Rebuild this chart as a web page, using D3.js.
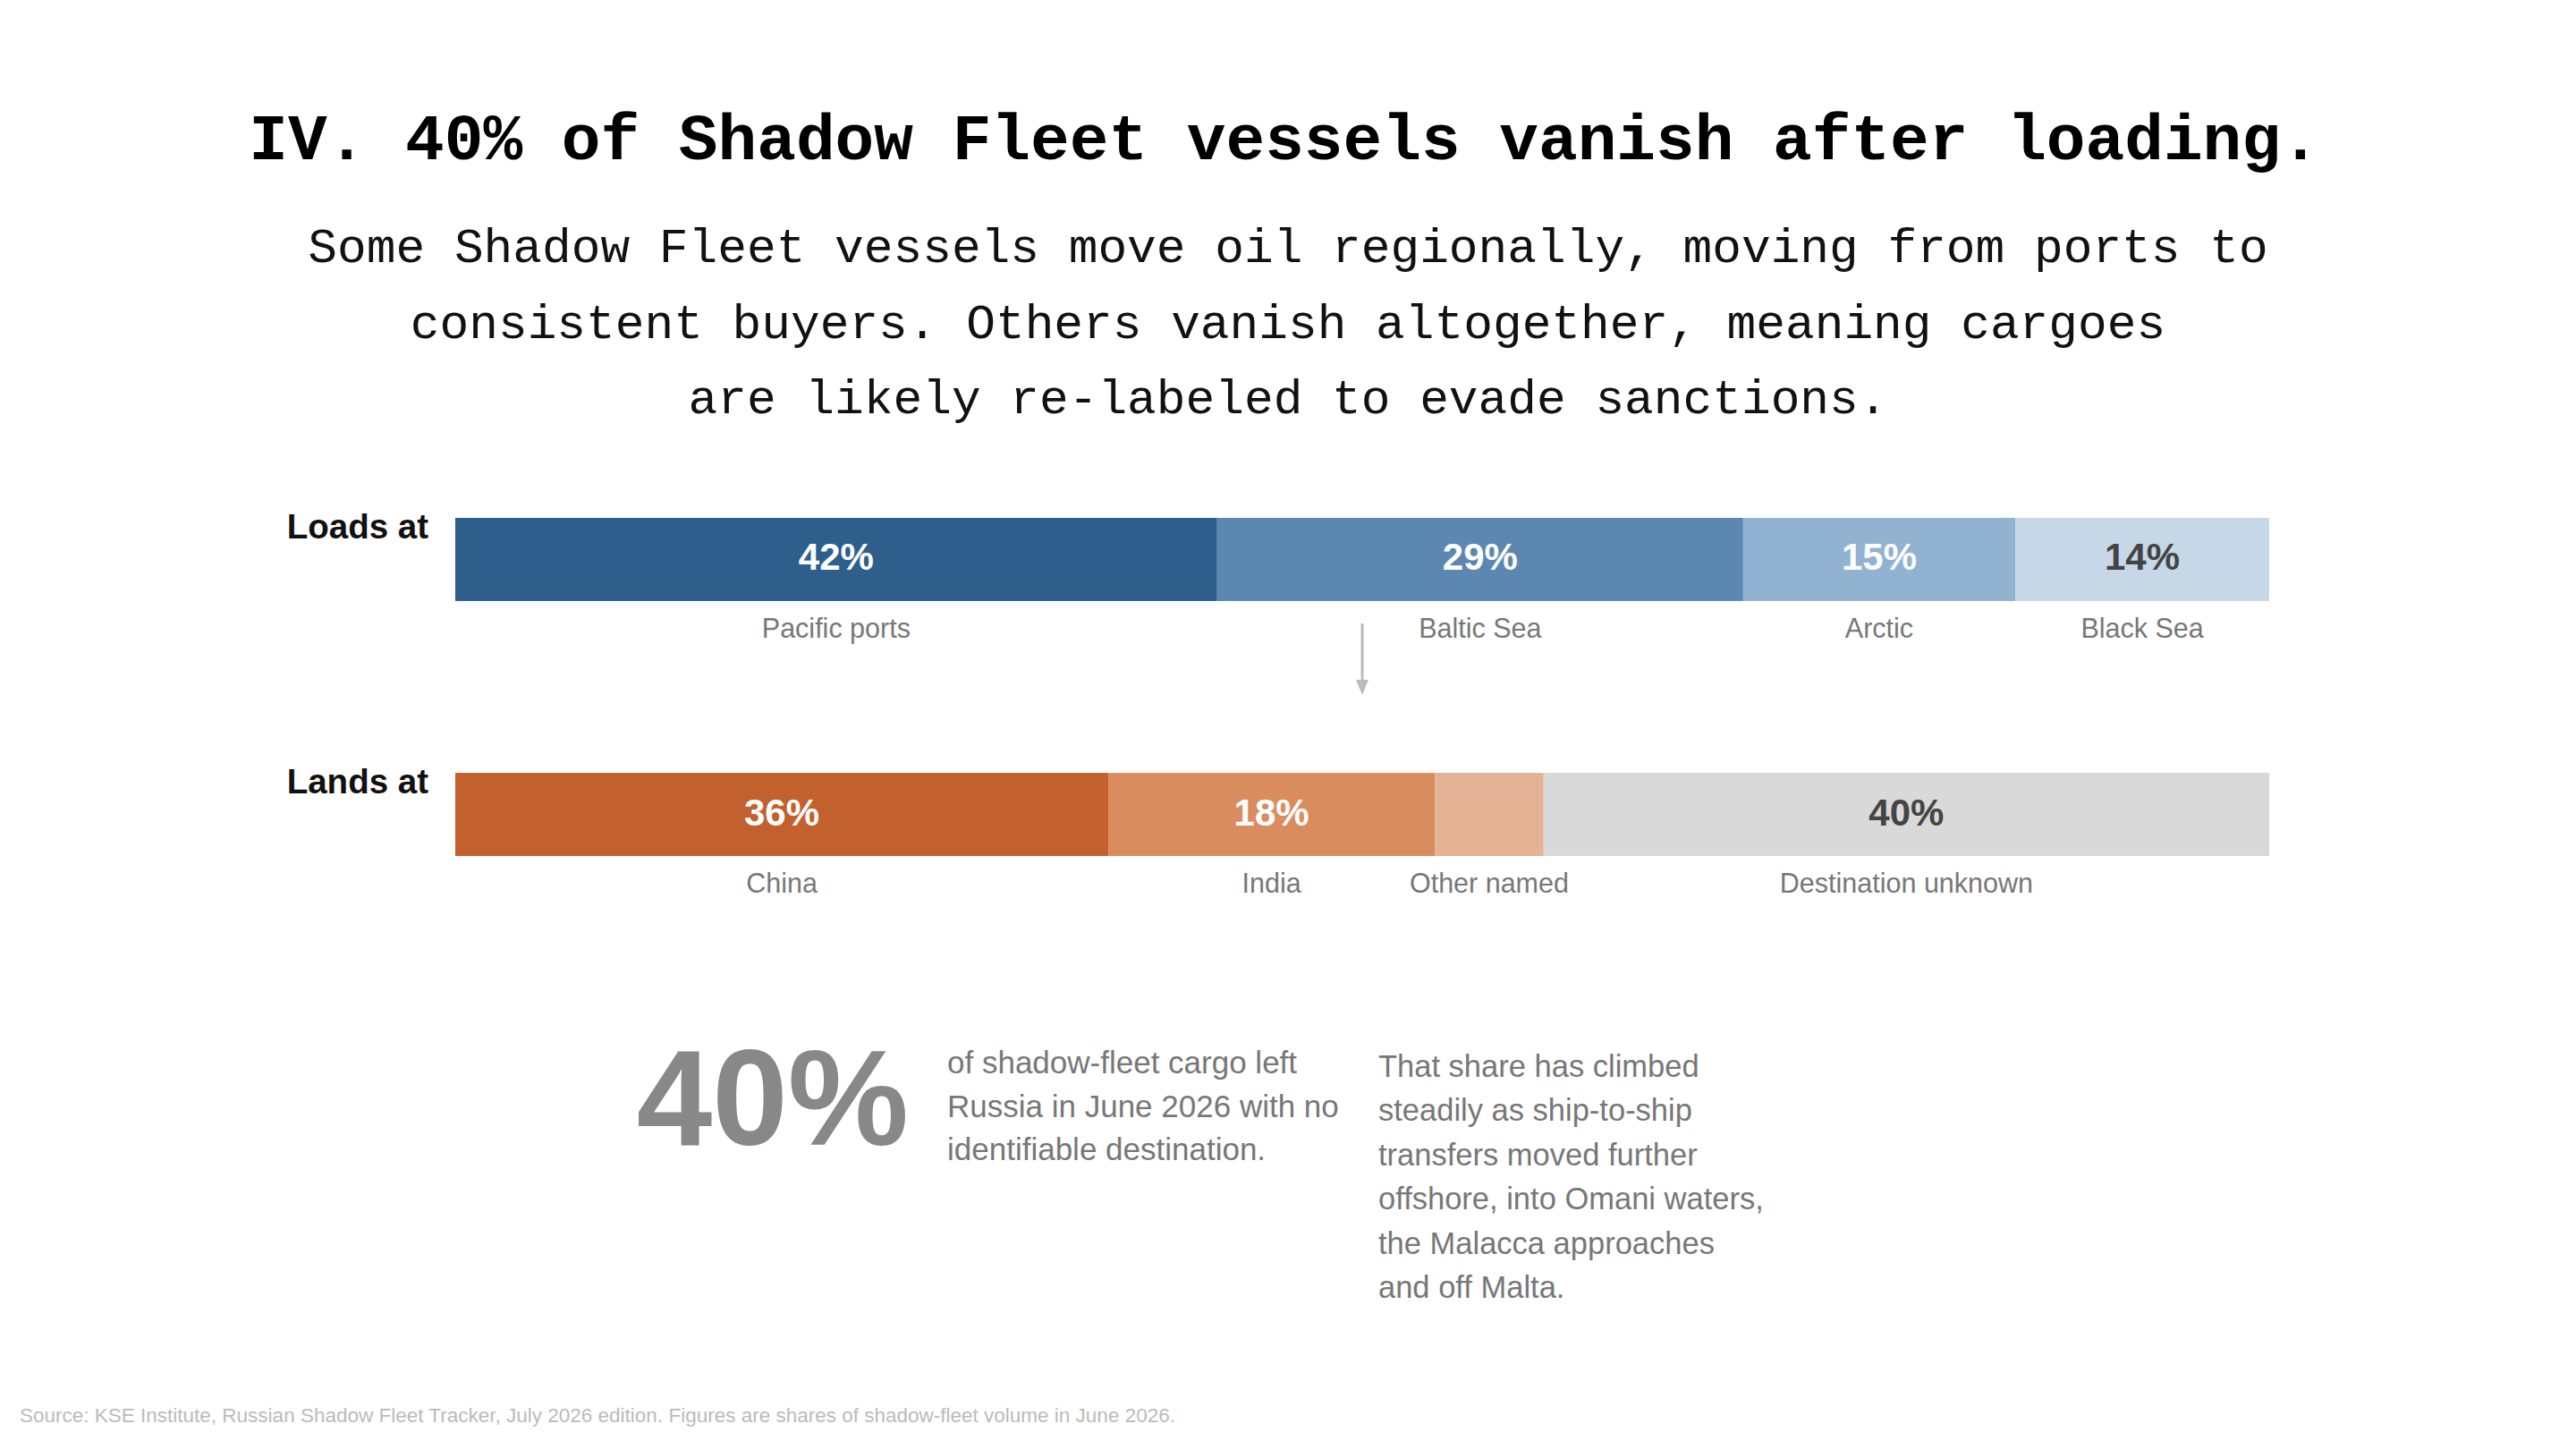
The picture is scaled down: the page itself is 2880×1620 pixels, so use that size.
<!DOCTYPE html>
<html>
<head>
<meta charset="utf-8">
<script src="https://cdn.jsdelivr.net/npm/d3@7"></script>
<style>
  html, body { margin: 0; padding: 0; background: #ffffff; }
  svg { display: block; }
</style>
</head>
<body>
<svg id="chart" width="2880" height="1620"></svg>
<script>
// ---- data ----
const rowLabels = ["Loads at", "Lands at"];
const loadCategories = ["Pacific ports", "Baltic Sea", "Arctic", "Black Sea"];
const loadValues = [42, 29, 15, 14];
const loadColors = ["#2e5e8c", "#5b87b0", "#91b2d1", "#c6d8e7"];
const landCategories = ["China", "India", "Other named", "Destination unknown"];
const landValues = [36, 18, 6, 40];
const landColors = ["#c2612e", "#d98d5e", "#e4b295", "#d9d9d9"];
const darkTextOn = ["#2e5e8c", "#5b87b0", "#91b2d1", "#c2612e", "#d98d5e"];

const titleText = "IV. 40% of Shadow Fleet vessels vanish after loading.";
const subtitleLines = [
  "Some Shadow Fleet vessels move oil regionally, moving from ports to",
  "consistent buyers. Others vanish altogether, meaning cargoes",
  "are likely re-labeled to evade sanctions."
];
const bigNumber = "40%";
const noteLeft = ["of shadow-fleet cargo left", "Russia in June 2026 with no", "identifiable destination."];
const noteRight = ["That share has climbed", "steadily as ship-to-ship", "transfers moved further",
  "offshore, into Omani waters,", "the Malacca approaches", "and off Malta."];
const sourceText = "Source: KSE Institute, Russian Shadow Fleet Tracker, July 2026 edition. Figures are shares of shadow-fleet volume in June 2026.";

// ---- layout ----
const svg = d3.select("#chart");
const sans = "'Liberation Sans', Arial, Helvetica, sans-serif";
const mono = "'Liberation Mono', 'DejaVu Sans Mono', monospace";

svg.append("text")
  .attr("x", 1436).attr("y", 178)
  .attr("text-anchor", "middle")
  .style("font-family", mono).style("font-weight", "700").style("font-size", "72.8px")
  .attr("fill", "#000")
  .text(titleText);

svg.append("g").selectAll("text").data(subtitleLines).join("text")
  .attr("x", 1440).attr("y", (d, i) => 293 + i * 84.5)
  .attr("text-anchor", "middle")
  .style("font-family", mono).style("font-size", "54.5px")
  .attr("fill", "#111")
  .text(d => d);

const x = d3.scaleLinear().domain([0, 100]).range([509, 2537]);
const y = d3.scaleBand().domain(rowLabels).range([579, 957]).paddingInner(0.674).paddingOuter(0);

function stack(cats, vals, colors) {
  let acc = 0;
  return cats.map((c, i) => {
    const d = { cat: c, value: vals[i], color: colors[i], x0: acc, x1: acc + vals[i] };
    acc += vals[i];
    return d;
  });
}
const rows = [
  { label: rowLabels[0], segs: stack(loadCategories, loadValues, loadColors) },
  { label: rowLabels[1], segs: stack(landCategories, landValues, landColors) }
];

const rowG = svg.append("g").selectAll("g").data(rows).join("g");

rowG.append("text")
  .attr("x", 479).attr("y", d => y(d.label) + 23)
  .attr("text-anchor", "end")
  .style("font-family", sans).style("font-weight", "700").style("font-size", "38.5px")
  .attr("fill", "#111")
  .text(d => d.label);

rowG.each(function (row) {
  const g = d3.select(this);
  const by = y(row.label), bh = y.bandwidth();
  g.selectAll("rect").data(row.segs).join("rect")
    .attr("x", d => x(d.x0)).attr("width", d => x(d.x1) - x(d.x0))
    .attr("y", by).attr("height", bh)
    .attr("fill", d => d.color);
  g.selectAll("text.pct").data(row.segs.filter(d => d.value >= 10)).join("text")
    .attr("class", "pct")
    .attr("x", d => x((d.x0 + d.x1) / 2)).attr("y", by + bh / 2 + 12)
    .attr("text-anchor", "middle")
    .style("font-family", sans).style("font-weight", "700").style("font-size", "42px")
    .attr("fill", d => darkTextOn.includes(d.color) ? "#ffffff" : "#444444")
    .text(d => d.value + "%");
  g.selectAll("text.cat").data(row.segs).join("text")
    .attr("class", "cat")
    .attr("x", d => x((d.x0 + d.x1) / 2)).attr("y", by + bh + 41)
    .attr("text-anchor", "middle")
    .style("font-family", sans).style("font-size", "30.5px")
    .attr("fill", "#777")
    .text(d => d.cat);
});

// arrow between rows
const ax = x(50);
svg.append("line")
  .attr("x1", ax).attr("x2", ax).attr("y1", 697).attr("y2", 764)
  .attr("stroke", "#bbbbbb").attr("stroke-width", 3);
svg.append("path")
  .attr("d", `M${ax - 7},760 L${ax + 7},760 L${ax},777 Z`)
  .attr("fill", "#bbbbbb");

// big number callout
svg.append("text")
  .attr("x", 1016).attr("y", 1280)
  .attr("text-anchor", "end")
  .style("font-family", sans).style("font-weight", "700").style("font-size", "152px")
  .attr("fill", "#888888")
  .text(bigNumber);

svg.append("g").selectAll("text").data(noteLeft).join("text")
  .attr("x", 1059).attr("y", (d, i) => 1200 + i * 48.5)
  .style("font-family", sans).style("font-size", "35px")
  .attr("fill", "#777")
  .text(d => d);

svg.append("g").selectAll("text").data(noteRight).join("text")
  .attr("x", 1541).attr("y", (d, i) => 1204 + i * 49.4)
  .style("font-family", sans).style("font-size", "34.5px")
  .attr("fill", "#777")
  .text(d => d);

svg.append("text")
  .attr("x", 22).attr("y", 1590)
  .style("font-family", sans).style("font-size", "22.5px")
  .attr("fill", "#bbbbbb")
  .text(sourceText);
</script>
</body>
</html>
